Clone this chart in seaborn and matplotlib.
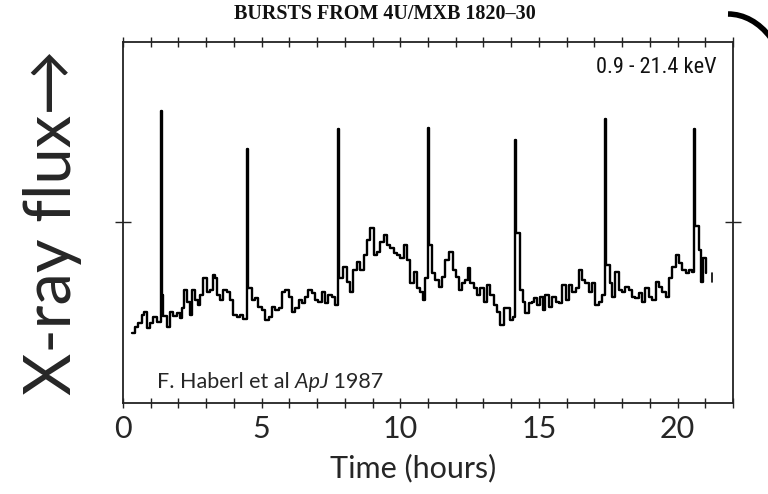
import numpy as np
import pandas as pd
import matplotlib
matplotlib.use("Agg")
import matplotlib.pyplot as plt
import seaborn as sns
from matplotlib.ticker import MultipleLocator
from matplotlib.patches import Arc
from matplotlib import font_manager

# ---- data ----
time_h = [0.31, 0.43, 0.55, 0.67, 0.76, 0.85, 0.97, 1.09, 1.22,
          1.39, 1.46, 1.58, 1.70, 1.82, 1.94, 2.06, 2.12, 2.20, 2.30, 2.42,
          2.48, 2.60, 2.72, 2.78, 2.90, 3.02, 3.12, 3.24, 3.32, 3.38, 3.50,
          3.62, 3.74, 3.86, 3.96, 4.10, 4.22, 4.34,
          4.52, 4.65, 4.77, 4.88, 5.01, 5.13, 5.25, 5.37, 5.49, 5.61, 5.73,
          5.85, 5.97, 6.09, 6.21, 6.33, 6.45, 6.57, 6.69, 6.81, 6.93, 7.05,
          7.17, 7.29, 7.41, 7.53, 7.65,
          7.80, 7.95, 8.08, 8.19, 8.31, 8.44, 8.56, 8.68, 8.80, 8.92, 9.04,
          9.16, 9.28, 9.40, 9.52, 9.64, 9.76, 9.88, 10.00, 10.12, 10.24,
          10.36, 10.48, 10.60, 10.72, 10.81, 10.90,
          11.02, 11.14, 11.26, 11.38, 11.51, 11.62, 11.77, 11.89, 12.01,
          12.11, 12.23, 12.35, 12.44, 12.53, 12.65, 12.77, 12.89, 13.01,
          13.13, 13.25, 13.37, 13.49, 13.61, 13.73, 13.85, 13.97, 14.05,
          14.18, 14.30, 14.42, 14.51, 14.63, 14.75, 14.81, 14.93, 15.05,
          15.15, 15.23, 15.35, 15.48, 15.60, 15.72, 15.84, 15.96, 16.08,
          16.20, 16.32, 16.44, 16.56, 16.68, 16.80, 16.92, 17.04, 17.16, 17.28,
          17.43, 17.56, 17.64, 17.76, 17.88, 18.00, 18.12, 18.24, 18.36,
          18.48, 18.60, 18.73, 18.84, 18.96, 19.09, 19.21, 19.33, 19.45,
          19.57, 19.69, 19.81, 19.93, 20.05, 20.17, 20.29, 20.41, 20.53,
          20.62, 20.77, 20.86, 20.93, 21.03]
flux = [19.4, 21.1, 22.1, 24.4, 25.3, 20.8, 22.1, 23.9, 22.5,
        29.9, 24.0, 21.1, 25.3, 24.0, 24.9, 23.5, 26.3, 31.3, 28.1, 24.4,
        31.3, 28.5, 27.1, 29.9, 34.5, 30.8, 31.3, 35.5, 34.6, 29.9, 28.5,
        31.3, 30.8, 28.5, 24.4, 23.9, 24.4, 23.4,
        31.8, 28.5, 29.0, 26.7, 25.8, 23.0, 23.9, 26.7, 25.8, 26.3, 30.8,
        31.3, 29.4, 25.3, 26.3, 28.5, 27.7, 29.4, 31.3, 30.5, 28.5, 28.1,
        30.8, 27.7, 30.0, 29.4, 27.1,
        34.5, 37.8, 33.6, 30.8, 36.8, 39.1, 36.8, 41.0, 45.2, 48.4, 41.0,
        41.9, 44.7, 46.5, 43.8, 42.8, 41.5, 41.0, 40.1, 43.8, 39.6,
        33.2, 36.4, 31.8, 30.8, 28.5, 34.6,
        43.8, 36.0, 34.1, 32.2, 35.0, 39.6, 41.9, 36.8, 35.0,
        31.3, 33.2, 34.0, 37.3, 33.2, 31.8, 29.9, 31.8, 28.1,
        32.7, 29.9, 27.1, 25.3, 21.6, 26.2, 26.2, 23.0, 23.9,
        47.0, 31.3, 28.1, 24.8, 27.6, 28.1, 29.1, 27.1, 29.4,
        25.8, 29.9, 26.7, 29.4, 28.1, 27.6, 32.7, 28.5, 32.7,
        30.8, 31.8, 36.8, 34.1, 33.2, 30.8, 33.2, 27.1, 28.1, 29.9,
        38.2, 33.2, 29.4, 36.4, 31.3, 30.8, 32.2, 31.3, 29.4,
        29.0, 30.4, 28.1, 31.8, 29.4, 28.5, 33.6, 32.2, 30.8,
        29.4, 34.5, 37.8, 41.0, 38.7, 36.8, 35.9, 36.8, 36.4,
        49.0, 42.4, 33.6, 40.1, 36.0]

burst_time = [1.36, 4.49, 7.77, 10.99, 14.15, 17.40, 20.59]
burst_peak = [81.0, 70.4, 75.9, 76.2, 72.9, 78.8, 75.9]

tail_time = [21.25, 21.25]
tail_flux = [33.5, 36.0]

x_ticks = [0, 5, 10, 15, 20]

# ---- build the light curve table ----
df = pd.concat([pd.DataFrame({"t": time_h, "f": flux}),
                pd.DataFrame({"t": burst_time, "f": burst_peak})],
               ignore_index=True).sort_values("t")
tail = pd.DataFrame({"t": tail_time, "f": tail_flux})

sns.set_style("white")
plt.rcParams["font.family"] = ["Lato", "DejaVu Sans"]

installed = {f.name for f in font_manager.fontManager.ttflist}
narrow = [f for f in ["Liberation Sans Narrow", "DejaVu Sans Condensed",
                      "Roboto Condensed", "Liberation Sans"] if f in installed]
narrow = narrow[:1] + ["DejaVu Sans"]

W, H = 768, 494
fig = plt.figure(figsize=(W / 100, H / 100), dpi=100)
ax = fig.add_axes([123 / W, 1 - 403 / H, 610 / W, 361 / H])

sns.lineplot(data=df, x="t", y="f", ax=ax, color="black", lw=1.7,
             drawstyle="steps-post", estimator=None, sort=True)
sns.lineplot(data=tail, x="t", y="f", ax=ax, color="black", lw=1.2,
             estimator=None, sort=False)

ax.set_xlim(0, 22)
ax.set_ylim(0, 100)
ax.set_xticks(x_ticks)
ax.xaxis.set_minor_locator(MultipleLocator(1))
ax.tick_params(axis="x", which="both", direction="inout", top=True,
               bottom=True, length=7, width=1.0, color="#222222",
               labelsize=22, pad=5)
ax.set_yticks([50])
ax.tick_params(axis="y", direction="inout", left=True, right=True,
               length=12, width=1.0, color="#222222", labelleft=False)
for s in ax.spines.values():
    s.set_color("#222222")
    s.set_linewidth(1.3)

ax.set_xlabel("Time (hours)", fontsize=22)
ax.xaxis.set_label_coords(0.475, -0.14)
ax.set_ylabel("X-ray flux\u2192", fontsize=47)
ax.yaxis.label.set_va("center")
ax.yaxis.set_label_coords(-0.116, 0.50)

ax.text(0.874, 0.928, "0.9 - 21.4 keV", transform=ax.transAxes,
        ha="center", va="center", fontsize=16,
        family=narrow, color="#111111")

t1 = ax.text(0.056, 0.042, "F. Haberl et al", transform=ax.transAxes,
             ha="left", va="baseline", fontsize=15.5)
t2 = ax.annotate(" ApJ", xy=(1, 0), xycoords=t1, ha="left", va="bottom",
                 fontsize=15.5, style="italic")
ax.annotate(" 1987", xy=(1, 0), xycoords=t2, ha="left", va="bottom",
            fontsize=15.5)

fig.text(385 / W, 1 - 14 / H, "BURSTS FROM 4U/MXB 1820\u201330",
         ha="center", va="center", fontsize=14.5, fontweight="bold",
         family=["Liberation Serif", "DejaVu Serif"], color="#111111")

arc = Arc((728 / W, 1 - 94 / H), 120 / W, 160 / H, theta1=0, theta2=90,
          transform=fig.transFigure, color="black", lw=4, clip_on=False)
fig.add_artist(arc)

fig.savefig("out.png", dpi=100)
